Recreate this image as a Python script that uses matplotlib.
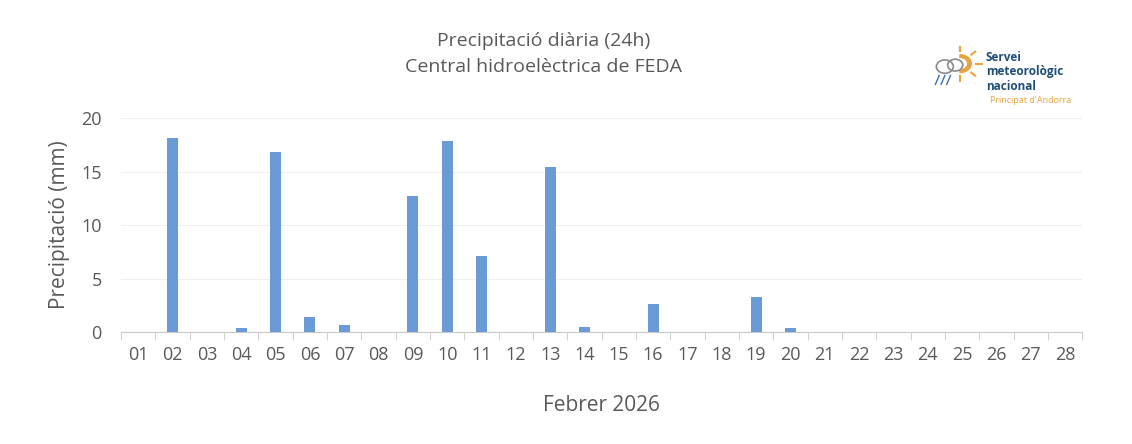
import matplotlib.pyplot as plt
from matplotlib.patches import Circle, Wedge
import numpy as np

plt.rcParams['font.family'] = ['Open Sans', 'DejaVu Sans']

days = [f"{d:02d}" for d in range(1, 29)]
precip = [0, 18.1, 0, 0.4, 16.8, 1.4, 0.7, 0, 12.7, 17.9, 7.1, 0, 15.4, 0.5,
          0, 2.6, 0, 0, 3.3, 0.4, 0, 0, 0, 0, 0, 0, 0, 0]

fig = plt.figure(figsize=(11.32, 4.44), dpi=100)
ax = fig.add_axes([0.107, 0.252, 0.849, 0.482])
x = np.arange(len(days))
ax.bar(x, precip, width=0.32, color='#6A9BD6', zorder=3)
ax.set_xlim(-0.5, len(days) - 0.5)
ax.set_ylim(0, 20)
ax.set_yticks([0, 5, 10, 15, 20])
ax.grid(axis='y', color='#EFEFEF', lw=0.8, zorder=0)
for s in ['top', 'right', 'left']:
    ax.spines[s].set_visible(False)
ax.spines['bottom'].set_color('#C8C8C8')
ax.set_xticks(x)
ax.set_xticklabels(days)
ax.set_xticks(np.arange(-0.5, len(days), 1), minor=True)
ax.tick_params(axis='x', which='major', length=0, pad=10, labelsize=13, labelcolor='#595959')
ax.tick_params(axis='x', which='minor', length=6, color='#C8C8C8')
ax.tick_params(axis='y', length=0, labelsize=13, labelcolor='#595959', pad=14)
ax.set_ylabel('Precipitació (mm)', fontsize=15, color='#595959', labelpad=8)
ax.set_xlabel('Febrer 2026', fontsize=15, color='#595959', labelpad=22)
fig.text(0.48, 0.878, 'Precipitació diària (24h)\nCentral hidroelèctrica de FEDA',
         ha='center', va='center', fontsize=14, color='#595959', linespacing=1.55)

# logo
fig.text(0.871, 0.838, 'Servei\nmeteorològic\nnacional', ha='left', va='center',
         fontsize=8.5, color='#1F4E79', fontweight='bold', linespacing=1.15)
fig.text(0.875, 0.773, "Principat d'Andorra", ha='left', va='center', fontsize=6.5, color='#E8A33C')
lax = fig.add_axes([0.818, 0.80, 0.05, 0.1])
lax.set_xlim(-1.5, 1.5); lax.set_ylim(-1.5, 1.5); lax.axis('off')
lax.add_patch(Wedge((0.3, 0.2), 0.6, -90, 90, width=0.18, color='#E8A33C'))
for a in np.linspace(-90, 90, 5):
    r = np.deg2rad(a)
    lax.plot([0.3 + 0.85*np.cos(r), 0.3 + 1.15*np.cos(r)],
             [0.2 + 0.85*np.sin(r), 0.2 + 1.15*np.sin(r)], color='#E8A33C', lw=1.5)
lax.plot([0.3, 0.3], [1.05, 1.35], color='#E8A33C', lw=1.5)
lax.add_patch(Circle((-0.5, 0.0), 0.45, fill=False, ec='#8A8A8A', lw=1.2))
lax.add_patch(Circle((0.05, 0.1), 0.4, fill=False, ec='#8A8A8A', lw=1.2))
for dx in [-0.8, -0.5, -0.2]:
    lax.plot([dx, dx - 0.2], [-0.6, -1.2], color='#3A6FB5', lw=1)
fig.savefig('out.png', dpi=100)
